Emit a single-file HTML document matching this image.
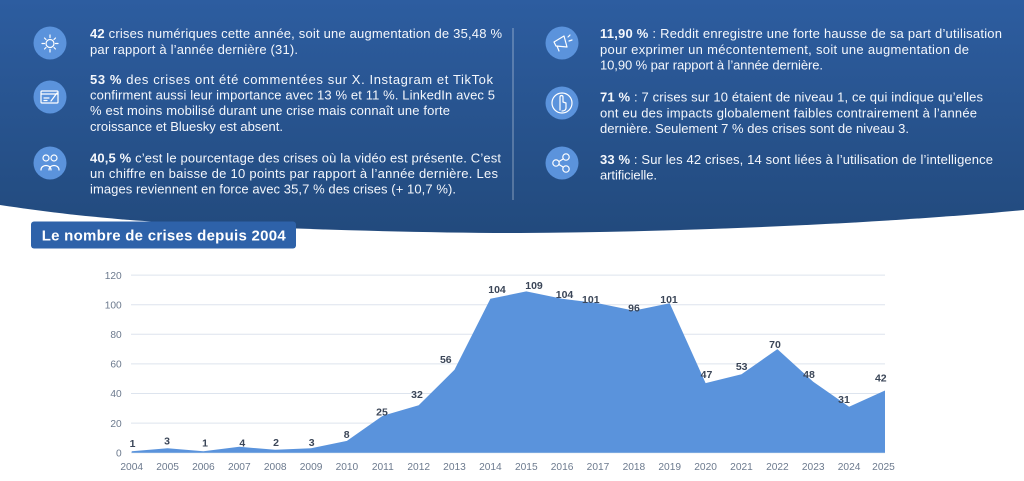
<!DOCTYPE html>
<html>
<head>
<meta charset="utf-8">
<style>
  html,body{margin:0;padding:0;background:#fff;}
  body{width:1024px;height:481px;overflow:hidden;}
  svg{display:block;font-family:"Liberation Sans",sans-serif;}
  .t{fill:#f4f7fc;font-size:13px;}
  .b{font-weight:bold;}
  .yl{fill:#6c7a8e;font-size:10.2px;text-anchor:end;}
  .xl{fill:#6c7a8e;font-size:10.2px;text-anchor:middle;}
  .dl{fill:#3b4658;font-size:10.5px;font-weight:bold;text-anchor:middle;}
  .ic{fill:none;stroke:#fff;stroke-width:1.2;stroke-linecap:round;stroke-linejoin:round;}
</style>
</head>
<body>
<svg width="1024" height="481" viewBox="0 0 1024 481" xmlns="http://www.w3.org/2000/svg">
  <defs>
    <linearGradient id="bg" x1="0" y1="0" x2="0" y2="1">
      <stop offset="0" stop-color="#2d5da0"/>
      <stop offset="1" stop-color="#224a7d"/>
    </linearGradient>
  </defs>

  <!-- Banner -->
  <path d="M0,0 H1024 V210 C900,222 700,232 520,233 C400,233 220,227 130,220 C80,216 40,211 0,205 Z" fill="url(#bg)"/>

  <!-- Divider -->
  <line x1="513" y1="28" x2="513" y2="200" stroke="rgba(255,255,255,0.45)" stroke-width="1"/>

  <!-- Left icons -->
  <circle cx="50" cy="43" r="16.5" fill="#5b93dc"/>
  <g class="ic">
    <circle cx="50" cy="43.5" r="4"/>
    <path d="M50,35 V37.5 M50,49.5 V52 M42,43.5 H44.5 M55.5,43.5 H58 M44.5,38 L46,39.5 M55.5,38 L54,39.5 M44.5,49 L46,47.5 M55.5,49 L54,47.5"/>
  </g>
  <circle cx="50" cy="97" r="16.5" fill="#5b93dc"/>
  <g class="ic">
    <rect x="41" y="91" width="17" height="12" rx="1"/>
    <path d="M41,94 H58 M44,98 H49 M44,100.5 H47 M51,101 L57,93"/>
  </g>
  <circle cx="50" cy="163" r="16.5" fill="#5b93dc"/>
  <g class="ic">
    <circle cx="46" cy="158" r="3"/>
    <circle cx="54" cy="158" r="3"/>
    <path d="M41,170 C41,164 51,164 51,170 M49,170 C49,164 59,164 59,170"/>
  </g>

  <!-- Right icons -->
  <circle cx="562" cy="43" r="16.5" fill="#5b93dc"/>
  <g class="ic">
    <path d="M554,42 L564,36 L567,47 L556,46 Z M557,46 L559,51 M568,37 L570,35 M569,41 L572,40"/>
  </g>
  <circle cx="562" cy="103" r="16.5" fill="#5b93dc"/>
  <g class="ic">
    <circle cx="562" cy="103" r="10"/>
    <path d="M560,110 V97 C560,95 563,95 563,97 V102 L566,103 V108 C566,110 564,111 562,111"/>
  </g>
  <circle cx="562" cy="163" r="16.5" fill="#5b93dc"/>
  <g class="ic">
    <circle cx="556" cy="163" r="3.2"/>
    <circle cx="566" cy="157" r="3.2"/>
    <circle cx="566" cy="169" r="3.2"/>
    <path d="M559,161.5 L563,159 M559,164.5 L563,167"/>
  </g>

  <!-- Left text -->
  <text class="t" x="90" y="38" textLength="412"><tspan class="b">42</tspan> crises numériques cette année, soit une augmentation de 35,48 %</text>
  <text class="t" x="90" y="54" textLength="208">par rapport à l’année dernière (31).</text>

  <text class="t" x="90" y="84" textLength="403"><tspan class="b">53 %</tspan> des crises ont été commentées sur X. Instagram et TikTok</text>
  <text class="t" x="90" y="99.5" textLength="405">confirment aussi leur importance avec 13 % et 11 %. LinkedIn avec 5</text>
  <text class="t" x="90" y="115" textLength="360">% est moins mobilisé durant une crise mais connaît une forte</text>
  <text class="t" x="90" y="131" textLength="193">croissance et Bluesky est absent.</text>

  <text class="t" x="90" y="162.5" textLength="411"><tspan class="b">40,5 %</tspan> c’est le pourcentage des crises où la vidéo est présente. C’est</text>
  <text class="t" x="90" y="178" textLength="408">un chiffre en baisse de 10 points par rapport à l’année dernière. Les</text>
  <text class="t" x="90" y="193.7" textLength="366">images reviennent en force avec 35,7 % des crises (+ 10,7 %).</text>

  <!-- Right text -->
  <text class="t" x="600" y="38" textLength="402"><tspan class="b">11,90 %</tspan> : Reddit enregistre une forte hausse de sa part d’utilisation</text>
  <text class="t" x="600" y="54" textLength="369">pour exprimer un mécontentement, soit une augmentation de</text>
  <text class="t" x="600" y="69.7" textLength="223">10,90 % par rapport à l’année dernière.</text>

  <text class="t" x="600" y="101.7" textLength="383"><tspan class="b">71 %</tspan> : 7 crises sur 10 étaient de niveau 1, ce qui indique qu’elles</text>
  <text class="t" x="600" y="117.5" textLength="377">ont eu des impacts globalement faibles contrairement à l’année</text>
  <text class="t" x="600" y="133" textLength="309">dernière. Seulement 7 % des crises sont de niveau 3.</text>

  <text class="t" x="600" y="164" textLength="393"><tspan class="b">33 %</tspan> : Sur les 42 crises, 14 sont liées à l’utilisation de l’intelligence</text>
  <text class="t" x="600" y="179.7" textLength="57">artificielle.</text>

  <!-- Title badge -->
  <rect x="31" y="221.5" width="265" height="27" rx="3" fill="#2e62a9"/>
  <text x="41.7" y="240.5" fill="#fff" font-size="15" font-weight="bold" textLength="244">Le nombre de crises depuis 2004</text>

  <!-- Gridlines -->
  <g stroke="#dde4ee" stroke-width="1">
    <line x1="131" y1="275.1" x2="885" y2="275.1"/>
    <line x1="131" y1="304.7" x2="885" y2="304.7"/>
    <line x1="131" y1="334.3" x2="885" y2="334.3"/>
    <line x1="131" y1="363.9" x2="885" y2="363.9"/>
    <line x1="131" y1="393.5" x2="885" y2="393.5"/>
    <line x1="131" y1="423.1" x2="885" y2="423.1"/>
    <line x1="131" y1="452.7" x2="885" y2="452.7"/>
  </g>

  <!-- Area -->
  <path fill="#5a93dc" d="M131.7,452.7 L131.7,451.2 L167.6,448.3 L203.4,451.2 L239.3,446.8 L275.2,449.7 L311.1,448.3 L346.9,440.9 L382.8,415.7 L418.7,405.3 L454.5,369.8 L490.4,298.8 L526.3,291.4 L562.1,298.8 L598.0,303.2 L633.9,310.6 L669.7,303.2 L705.6,383.1 L741.5,374.3 L777.4,349.1 L813.2,381.7 L849.1,406.8 L885.0,390.5 L885.0,452.7 Z"/>

  <!-- Y labels -->
  <text class="yl" x="121.7" y="278.8">120</text>
  <text class="yl" x="121.7" y="308.4">100</text>
  <text class="yl" x="121.7" y="338">80</text>
  <text class="yl" x="121.7" y="367.6">60</text>
  <text class="yl" x="121.7" y="397.2">40</text>
  <text class="yl" x="121.7" y="426.8">20</text>
  <text class="yl" x="121.7" y="456.4">0</text>

  <!-- X labels -->
  <text class="xl" x="131.7" y="470">2004</text>
  <text class="xl" x="167.6" y="470">2005</text>
  <text class="xl" x="203.4" y="470">2006</text>
  <text class="xl" x="239.3" y="470">2007</text>
  <text class="xl" x="275.2" y="470">2008</text>
  <text class="xl" x="311.1" y="470">2009</text>
  <text class="xl" x="346.9" y="470">2010</text>
  <text class="xl" x="382.8" y="470">2011</text>
  <text class="xl" x="418.7" y="470">2012</text>
  <text class="xl" x="454.5" y="470">2013</text>
  <text class="xl" x="490.4" y="470">2014</text>
  <text class="xl" x="526.3" y="470">2015</text>
  <text class="xl" x="562.1" y="470">2016</text>
  <text class="xl" x="598.0" y="470">2017</text>
  <text class="xl" x="633.9" y="470">2018</text>
  <text class="xl" x="669.7" y="470">2019</text>
  <text class="xl" x="705.6" y="470">2020</text>
  <text class="xl" x="741.5" y="470">2021</text>
  <text class="xl" x="777.4" y="470">2022</text>
  <text class="xl" x="813.2" y="470">2023</text>
  <text class="xl" x="849.1" y="470">2024</text>
  <text class="xl" x="883.5" y="470">2025</text>

  <!-- Data labels -->
  <text class="dl" x="132.5" y="447.1">1</text>
  <text class="dl" x="167" y="444.5">3</text>
  <text class="dl" x="205" y="446.5">1</text>
  <text class="dl" x="242.3" y="446.5">4</text>
  <text class="dl" x="276" y="445.8">2</text>
  <text class="dl" x="311.7" y="445.8">3</text>
  <text class="dl" x="346.7" y="437.8">8</text>
  <text class="dl" x="382" y="415.5">25</text>
  <text class="dl" x="417" y="398.1">32</text>
  <text class="dl" x="445.8" y="363.1">56</text>
  <text class="dl" x="497" y="293.1">104</text>
  <text class="dl" x="534" y="288.8">109</text>
  <text class="dl" x="564.5" y="298.1">104</text>
  <text class="dl" x="590.8" y="303.1">101</text>
  <text class="dl" x="634" y="311.5">96</text>
  <text class="dl" x="669" y="303.1">101</text>
  <text class="dl" x="706.5" y="378.1">47</text>
  <text class="dl" x="741.7" y="369.8">53</text>
  <text class="dl" x="775" y="347.8">70</text>
  <text class="dl" x="809" y="378.1">48</text>
  <text class="dl" x="844" y="402.8">31</text>
  <text class="dl" x="880.8" y="381.5">42</text>
</svg>
</body>
</html>
